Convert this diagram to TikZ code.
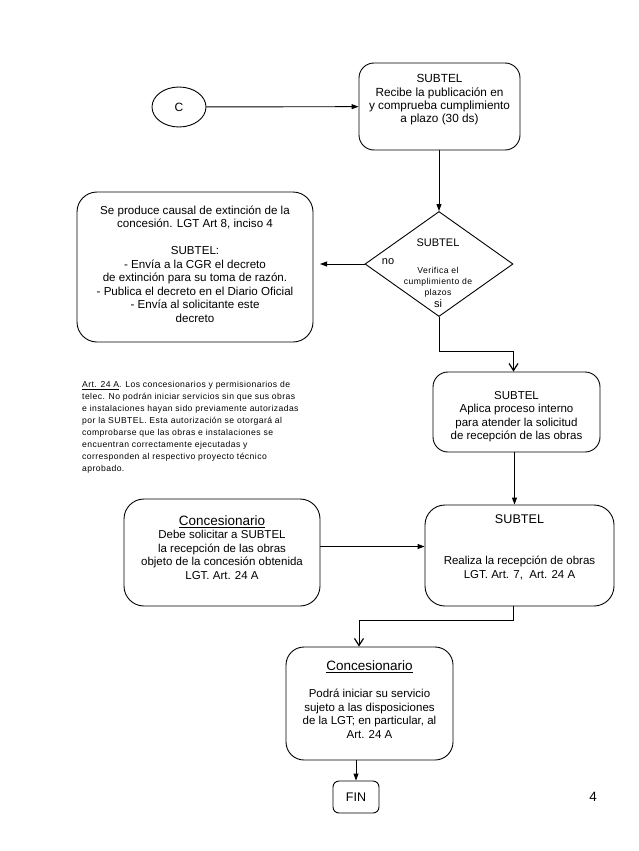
\documentclass[tikz,border=0pt]{standalone}
\usepackage{fontspec}
\setmainfont{Liberation Sans}
\newfontfamily\spacedfont[LetterSpace=5]{Liberation Sans}
\usetikzlibrary{shapes.geometric,arrows.meta}
\tikzset{
  boxshape/.style={draw, rounded corners=15pt, line width=0.9pt, inner sep=0pt},
  txt/.style={align=center, inner sep=0pt, font=\fontsize{11.5}{13.4}\selectfont},
  smalltxt/.style={align=center, inner sep=0pt, font=\spacedfont\fontsize{8.6}{11}\selectfont},
  conn/.style={line width=0.9pt},
  arr/.style={conn, -{Triangle[length=7pt,width=5pt]}},
  varr/.style={conn, -{Straight Barb[length=7pt,width=9pt,line width=1.2pt]}}
}
\newcommand{\hdr}[1]{{\fontsize{13.5}{15}\selectfont\underline{#1}}}
\begin{document}
\begin{tikzpicture}[x=1pt,y=-1pt]
\useasboundingbox (0,0) rectangle (638,851);
% C circle
\node[draw, ellipse, line width=0.9pt, minimum width=54pt, minimum height=40pt, inner sep=0pt,
      font=\fontsize{12}{14}\selectfont] (C) at (179,107) {C};
% top box
\node[boxshape, minimum width=161pt, minimum height=87pt] (top) at (439.5,106.5) {};
\node[txt, font=\fontsize{11.8}{13.4}\selectfont] (toptext) at (439.5,100) {SUBTEL\\Recibe la publicación en\\y comprueba cumplimiento\\a plazo (30 ds)};
% diamond
\node[draw, diamond, line width=0.9pt, minimum width=148pt, minimum height=105pt, inner sep=0pt] (dia) at (439,264) {};
\node[txt, font=\fontsize{11}{13}\selectfont] (diasub) at (438,243) {SUBTEL};
\node[smalltxt] (diatext) at (438,282) {Verifica el\\cumplimiento de\\plazos};
\node[txt, font=\fontsize{11}{13}\selectfont] (dianno) at (388,262) {no};
\node[txt, font=\fontsize{11}{13}\selectfont] (diasi) at (438,304) {si};
% left box
\node[boxshape, rounded corners=20pt, minimum width=236pt, minimum height=150pt] (left) at (195,267) {};
\node[txt, font=\fontsize{11.6}{13.5}\selectfont] (lefttext) at (195,264) {Se produce causal de extinción de la\\concesión. LGT Art 8, inciso 4\\[13.5pt]SUBTEL:\\- Envía a la CGR el decreto\\de extinción para su toma de razón.\\- Publica el decreto en el Diario Oficial\\- Envía al solicitante este\\decreto};
\coordinate (noend) at (320,264);
% art 24 text
\node[anchor=north west, align=left, inner sep=0pt, font=\spacedfont\fontsize{8.6}{12}\selectfont] (art) at (82,381)
 {\underline{Art. 24 A}. Los concesionarios y permisionarios de\\telec. No podrán iniciar servicios sin que sus obras\\e instalaciones hayan sido previamente autorizadas\\por la SUBTEL. Esta autorización se otorgará al\\comprobarse que las obras e instalaciones se\\encuentran correctamente ejecutadas y\\corresponden al respectivo proyecto técnico\\aprobado.};
% apl box
\node[boxshape, minimum width=167pt, minimum height=80pt] (apl) at (516.5,412) {};
\node[txt] (apltext) at (516.5,416.5) {SUBTEL\\Aplica proceso interno\\para atender la solicitud\\de recepción de las obras};
\coordinate (bend1) at (439,351);
% sub2 box
\node[boxshape, rounded corners=20pt, minimum width=189pt, minimum height=101pt] (sub2) at (519.5,555.5) {};
\node[txt] (sub2text) at (519.5,547) {{\fontsize{12.6}{14}\selectfont SUBTEL}\\[28pt]Realiza la recepción de obras\\LGT. Art. 7,\ \ Art. 24 A};
% con1 box
\node[boxshape, rounded corners=20pt, minimum width=196pt, minimum height=107pt] (con1) at (222,552.5) {};
\node[txt] (con1text) at (222,547.5) {\hdr{Concesionario}\\Debe solicitar a SUBTEL\\la recepción de las obras\\objeto de la concesión obtenida\\LGT. Art. 24 A};
% con2 box
\node[boxshape, rounded corners=18pt, minimum width=167pt, minimum height=113pt] (con2) at (369.5,703.5) {};
\node[txt] (con2text) at (369.5,699.5) {\hdr{Concesionario}\\[14pt]Podrá iniciar su servicio\\sujeto a las disposiciones\\de la LGT; en particular, al\\Art. 24 A};
\coordinate (bend2) at (513,620);
% FIN
\node[draw, rounded corners=6pt, line width=0.9pt, minimum width=46pt, minimum height=32pt, inner sep=0pt,
      font=\fontsize{12.5}{14}\selectfont] (fin) at (356,797) {FIN};
\node[inner sep=0pt, font=\fontsize{13.5}{15}\selectfont] (pagenum) at (593,797) {4};
% connectors
\draw[arr] (C) -- (top);
\draw[arr] (top.south -| dia.north) -- (dia.north);
\draw[arr] (dia.west) -- (noend);
\draw[varr] (dia.south) -- (bend1) -| ([xshift=-3pt]apl.north);
\draw[arr] ([xshift=-2pt]apl.south) -- ([xshift=-2pt]apl.south |- sub2.north);
\draw[arr] ([yshift=6pt]con1.east) -- ([yshift=6pt]con1.east -| sub2.west);
\draw[varr] (bend2 |- sub2.south) -- (bend2) -| ([xshift=-10.5pt]con2.north);
\draw[arr] (fin.north |- con2.south) -- (fin.north);
\end{tikzpicture}
\end{document}
